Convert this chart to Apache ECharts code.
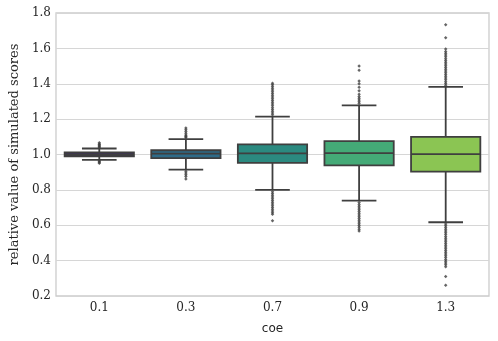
<!DOCTYPE html>
<html>
<head>
<meta charset="utf-8">
<script src="https://cdn.jsdelivr.net/npm/echarts@6/dist/echarts.min.js"></script>
<style>
  html, body { margin: 0; padding: 0; background: #fff; }
  #chart { width: 498px; height: 341px; }
</style>
</head>
<body>
<div id="chart"></div>
<script>
// categories of coe
var categories = ['0.1', '0.3', '0.7', '0.9', '1.3'];
// [lower whisker, Q1, median, Q3, upper whisker]
var boxStats = [
  [0.970, 0.990, 1.000, 1.012, 1.034],
  [0.915, 0.979, 1.005, 1.024, 1.087],
  [0.800, 0.953, 1.006, 1.057, 1.214],
  [0.739, 0.939, 1.008, 1.076, 1.278],
  [0.617, 0.903, 1.002, 1.100, 1.382]
];
var boxColors = ['#3f2d6b', '#2e6b88', '#2b8a80', '#44aa77', '#8bc553'];
// fliers per category
var fliers01 = [1.040, 1.045, 1.050, 1.055, 1.060, 1.066, 0.965, 0.960, 0.955, 0.950];
var fliers03 = [1.095, 1.100, 1.105, 1.110, 1.120, 1.130, 1.140, 1.150,
  0.905, 0.895, 0.885, 0.875, 0.862];
var fliers07 = [1.225, 1.235, 1.245, 1.255, 1.265, 1.275, 1.285, 1.295, 1.305, 1.315,
  1.325, 1.335, 1.345, 1.355, 1.365, 1.375, 1.385, 1.395, 1.403,
  0.790, 0.780, 0.770, 0.760, 0.750, 0.740, 0.730, 0.720, 0.710, 0.700,
  0.690, 0.680, 0.670, 0.662, 0.625];
var fliers09 = [1.288, 1.298, 1.308, 1.318, 1.328, 1.340, 1.360, 1.380, 1.400, 1.416,
  1.477, 1.500,
  0.728, 0.718, 0.708, 0.698, 0.688, 0.678, 0.668, 0.658, 0.648, 0.638,
  0.628, 0.618, 0.608, 0.598, 0.588, 0.578, 0.568];
var fliers13 = [1.392, 1.402, 1.412, 1.422, 1.432, 1.442, 1.452, 1.462, 1.472, 1.482,
  1.492, 1.502, 1.512, 1.522, 1.532, 1.542, 1.552, 1.562, 1.572, 1.582, 1.597,
  1.660, 1.733,
  0.607, 0.597, 0.587, 0.577, 0.567, 0.557, 0.547, 0.537, 0.527, 0.517,
  0.507, 0.497, 0.487, 0.477, 0.467, 0.457, 0.447, 0.437, 0.427, 0.417,
  0.407, 0.397, 0.387, 0.377, 0.365, 0.310, 0.261];
var yTicks = [0.2, 0.4, 0.6, 0.8, 1.0, 1.2, 1.4, 1.6, 1.8];

var allFliers = [fliers01, fliers03, fliers07, fliers09, fliers13];
var flierData = [];
allFliers.forEach(function (arr, i) {
  arr.forEach(function (v) { flierData.push([i, v]); });
});

var edge = '#3f3f3f';
var chart = echarts.init(document.getElementById('chart'));

function renderBox(params, api) {
  var idx = api.value(0);
  var lo = api.value(1), q1 = api.value(2), med = api.value(3), q3 = api.value(4), hi = api.value(5);
  var band = api.size([1, 0])[0];
  var w = band * 0.8;
  var cx = api.coord([idx, med])[0];
  var yLo = api.coord([idx, lo])[1];
  var yQ1 = api.coord([idx, q1])[1];
  var yMed = api.coord([idx, med])[1];
  var yQ3 = api.coord([idx, q3])[1];
  var yHi = api.coord([idx, hi])[1];
  var lineStyle = { stroke: edge, lineWidth: 1.8 };
  return {
    type: 'group',
    children: [
      { type: 'line', shape: { x1: cx, y1: yQ3, x2: cx, y2: yHi }, style: lineStyle },
      { type: 'line', shape: { x1: cx, y1: yQ1, x2: cx, y2: yLo }, style: lineStyle },
      { type: 'line', shape: { x1: cx - w / 4, y1: yHi, x2: cx + w / 4, y2: yHi }, style: lineStyle },
      { type: 'line', shape: { x1: cx - w / 4, y1: yLo, x2: cx + w / 4, y2: yLo }, style: lineStyle },
      { type: 'rect', shape: { x: cx - w / 2, y: yQ3, width: w, height: yQ1 - yQ3 },
        style: { fill: boxColors[idx], stroke: edge, lineWidth: 1.8 } },
      { type: 'line', shape: { x1: cx - w / 2, y1: yMed, x2: cx + w / 2, y2: yMed }, style: lineStyle }
    ]
  };
}

chart.setOption({
  animation: false,
  grid: {
    left: 50,
    right: 9,
    top: 13,
    bottom: 45,
    show: true,
    borderColor: '#cccccc',
    borderWidth: 1.3
  },
  xAxis: {
    type: 'category',
    data: categories,
    name: 'coe',
    nameLocation: 'middle',
    nameGap: 27,
    nameTextStyle: { fontFamily: 'DejaVu Sans', fontSize: 12, color: '#262626' },
    axisLine: { show: false },
    axisTick: { show: false },
    axisLabel: { fontFamily: 'DejaVu Serif', fontSize: 12, color: '#262626', margin: 6 },
    splitLine: { show: false }
  },
  yAxis: {
    type: 'value',
    min: yTicks[0],
    max: yTicks[yTicks.length - 1],
    interval: 0.2,
    name: 'relative value of simulated scores',
    nameLocation: 'middle',
    nameGap: 34,
    nameTextStyle: { fontFamily: 'DejaVu Serif', fontSize: 13, color: '#262626' },
    axisLine: { show: false },
    axisTick: { show: false },
    axisLabel: {
      fontFamily: 'DejaVu Serif', fontSize: 12, color: '#262626', margin: 5,
      formatter: function (v) { return v.toFixed(1); }
    },
    splitLine: { show: true, lineStyle: { color: '#d6d6d6', width: 1.2 } }
  },
  series: [
    {
      type: 'custom',
      renderItem: renderBox,
      encode: { x: 0, y: [1, 2, 3, 4, 5] },
      data: boxStats.map(function (s, i) { return [i].concat(s); }),
      z: 2
    },
    {
      type: 'scatter',
      symbol: 'diamond',
      symbolSize: 3.5,
      itemStyle: { color: edge },
      data: flierData,
      z: 3
    }
  ]
});
</script>
</body>
</html>
